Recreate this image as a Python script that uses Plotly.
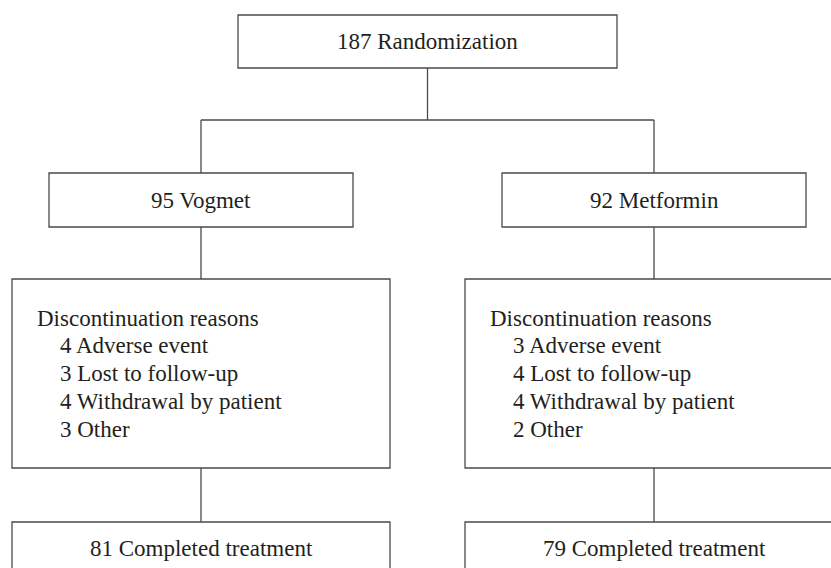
import plotly.graph_objects as go

# ---- data ----
total_randomized = 187
arms = ["Vogmet", "Metformin"]
arm_n = [95, 92]
reason_header = "Discontinuation reasons"
reason_labels = ["Adverse event", "Lost to follow-up", "Withdrawal by patient", "Other"]
reason_counts = {
    "Vogmet": [4, 3, 4, 3],
    "Metformin": [3, 4, 4, 2],
}
completed = [81, 79]

# ---- layout geometry (pixels) ----
W, H = 831, 568
col_x = [201, 654]
top_box = dict(x0=238, x1=617, y0=15, y1=68)
split_y = 120
arm_half = 152
arm_y = (173, 227)
rs_half = 189
rs_y = (279, 468)
cp_y = (522, 610)
indent_head = 23
indent_item = 46
line_step = 27.8
first_line_y = 318

LINE = dict(color="#4a4a4a", width=1.3)
FONT = dict(family="Liberation Serif, Times New Roman, serif", size=23, color="#231f20")

fig = go.Figure()
shapes = []
ann = []

def box(x0, x1, y0, y1):
    # draw as open path segments so edges that fall outside the page are simply not drawn
    xr = min(x1, W + 20)
    yb = min(y1, H + 20)
    path = f"M{x0},{yb} L{x0},{y0} L{xr},{y0}"
    if x1 <= W:
        path += f" L{x1},{yb}"
    if y1 <= H:
        path = f"M{x0},{y0} L{xr},{y0}" + (f" L{x1},{y1}" if x1 <= W else f" M{xr},{y1}") + f" L{x0},{y1} Z" if x1 <= W else f"M{xr},{y0} L{x0},{y0} L{x0},{y1} L{xr},{y1}"
    shapes.append(dict(type="path", xref="x", yref="y", path=path, line=LINE,
                       fillcolor="rgba(0,0,0,0)"))

def seg(x0, y0, x1, y1):
    shapes.append(dict(type="line", xref="x", yref="y", x0=x0, y0=y0, x1=x1, y1=y1, line=LINE))

def text(x, y, s, anchor="center"):
    ann.append(dict(x=x, y=y, xref="x", yref="y", text=s, showarrow=False,
                    xanchor=anchor, yanchor="middle", font=FONT))

# top
box(**top_box)
cx = (top_box["x0"] + top_box["x1"]) / 2
text(cx, (top_box["y0"] + top_box["y1"]) / 2, f"{total_randomized} Randomization")
seg(cx, top_box["y1"], cx, split_y)
seg(col_x[0], split_y, col_x[1], split_y)

for i, arm in enumerate(arms):
    x = col_x[i]
    seg(x, split_y, x, arm_y[0])
    box(x - arm_half, x + arm_half, arm_y[0], arm_y[1])
    text(x, sum(arm_y) / 2, f"{arm_n[i]} {arm}")
    seg(x, arm_y[1], x, rs_y[0])
    box(x - rs_half, x + rs_half, rs_y[0], rs_y[1])
    left = x - rs_half
    text(left + indent_head, first_line_y, reason_header, anchor="left")
    for j, lab in enumerate(reason_labels):
        text(left + indent_item, first_line_y + line_step * (j + 1),
             f"{reason_counts[arm][j]} {lab}", anchor="left")
    seg(x, rs_y[1], x, cp_y[0])
    box(x - rs_half, x + rs_half, cp_y[0], cp_y[1])
    text(x, 548, f"{completed[i]} Completed treatment")

fig.update_layout(
    width=W, height=H, autosize=False,
    margin=dict(l=0, r=0, t=0, b=0),
    paper_bgcolor="white", plot_bgcolor="white",
    xaxis=dict(range=[0, W], visible=False, fixedrange=True),
    yaxis=dict(range=[H, 0], visible=False, fixedrange=True),
    shapes=shapes, annotations=ann, showlegend=False,
)
fig.write_html(
    "out.html",
    config={"displayModeBar": False},
    post_script="document.body.style.margin='0';document.body.style.overflow='hidden';",
)
